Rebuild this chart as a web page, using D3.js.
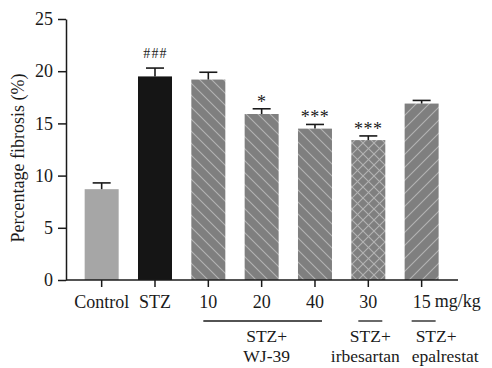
<!DOCTYPE html>
<html>
<head>
<meta charset="utf-8">
<script src="https://cdn.jsdelivr.net/npm/d3@7"></script>
<style>
  html, body { margin: 0; padding: 0; background: #fff; }
  svg { display: block; }
  text { font-family: "Liberation Serif", "Times New Roman", "DejaVu Serif", serif; fill: #1a1a1a; }
</style>
</head>
<body>
<svg id="chart" width="492" height="368"></svg>
<script>
// ---- data ----
const categories = ["Control", "STZ", "10", "20", "40", "30", "15"];
const values     = [8.7, 19.5, 19.2, 15.9, 14.5, 13.4, 16.9];
const errors     = [0.6, 0.8, 0.7, 0.5, 0.4, 0.4, 0.3];
const marks      = ["", "###", "", "*", "***", "***", ""];
const fills      = ["solid-light", "solid-dark", "back", "back", "back", "cross", "fwd"];
const yTicks     = [0, 5, 10, 15, 20, 25];
const unitLabel  = "mg/kg";
const groupLabels = [["STZ+", "WJ-39"], ["STZ+", "irbesartan"], ["STZ+", "epalrestat"]];
const groupFirst  = ["10", "30", "15"];
const groupLast   = ["40", "30", "15"];

// ---- chart ----
const svg = d3.select("#chart");
const defs = svg.append("defs");

function hatch(id, type, size) {
  const p = defs.append("pattern").attr("id", id)
    .attr("patternUnits", "userSpaceOnUse").attr("width", size).attr("height", size);
  p.append("rect").attr("width", size).attr("height", size).attr("fill", "#7f7f7f");
  const addLine = (x1, y1, x2, y2) => {
    p.append("line").attr("x1", x1).attr("y1", y1).attr("x2", x2).attr("y2", y2)
      .attr("stroke", "#b3b3b3").attr("stroke-width", 1.1);
  };
  if (type === "back" || type === "cross") {
    addLine(-1, -1, size + 1, size + 1);
    addLine(-1, size - 1, 1, size + 1);
    addLine(size - 1, -1, size + 1, 1);
  }
  if (type === "fwd" || type === "cross") {
    addLine(-1, size + 1, size + 1, -1);
    addLine(-1, 1, 1, -1);
    addLine(size - 1, size + 1, size + 1, size - 1);
  }
}
hatch("p-back", "back", 12);
hatch("p-fwd", "fwd", 13);
hatch("p-cross", "cross", 11);

const fillMap = {
  "solid-light": "#a6a6a6",
  "solid-dark": "#151515",
  "back": "url(#p-back)",
  "fwd": "url(#p-fwd)",
  "cross": "url(#p-cross)"
};

const x = d3.scaleBand().domain(categories).range([75, 448.3])
  .paddingInner(0.3625).paddingOuter(0.18125);
const y = d3.scaleLinear().domain([0, 25]).range([280, 19]);
const bw = x.bandwidth();
const cx = c => x(c) + bw / 2;

// bars
svg.append("g").selectAll("rect").data(categories).join("rect")
  .attr("x", c => x(c))
  .attr("y", (c, i) => y(values[i]))
  .attr("width", bw)
  .attr("height", (c, i) => y(0) - y(values[i]))
  .attr("fill", (c, i) => fillMap[fills[i]]);

// error bars (upper only)
const eg = svg.append("g").attr("stroke", "#1a1a1a").attr("stroke-width", 1.6);
categories.forEach((c, i) => {
  eg.append("line").attr("x1", cx(c)).attr("x2", cx(c))
    .attr("y1", y(values[i])).attr("y2", y(values[i] + errors[i]));
  eg.append("line").attr("x1", cx(c) - 9).attr("x2", cx(c) + 9)
    .attr("y1", y(values[i] + errors[i])).attr("y2", y(values[i] + errors[i]));
});

// significance marks
categories.forEach((c, i) => {
  if (!marks[i]) return;
  const isHash = marks[i].startsWith("#");
  svg.append("text")
    .attr("x", cx(c) + (isHash ? 0.5 : 0))
    .attr("y", y(values[i] + errors[i]) - (isHash ? 10 : 1))
    .attr("text-anchor", "middle")
    .attr("font-size", isHash ? 14 : 18)
    .attr("letter-spacing", isHash ? 1.2 : 0.5)
    .text(marks[i]);
});

// y axis
const yAxis = svg.append("g").attr("transform", "translate(66,0)")
  .call(d3.axisLeft(y).tickValues(yTicks).tickSize(8).tickPadding(5).tickSizeOuter(0));
yAxis.select(".domain").attr("stroke", "#1a1a1a").attr("stroke-width", 1.5);
yAxis.selectAll(".tick line").attr("stroke", "#1a1a1a").attr("stroke-width", 1.5);
yAxis.selectAll(".tick text").attr("font-size", 18).attr("fill", "#1a1a1a");

// x axis
const xAxis = svg.append("g").attr("transform", "translate(0,280)")
  .call(d3.axisBottom(x).tickSize(7).tickPadding(8).tickSizeOuter(0));
xAxis.select(".domain").remove();
xAxis.append("line").attr("x1", 66).attr("x2", 458).attr("y1", 0).attr("y2", 0)
  .attr("stroke", "#1a1a1a").attr("stroke-width", 1.5);
xAxis.selectAll(".tick line").attr("stroke", "#1a1a1a").attr("stroke-width", 1.5);
xAxis.selectAll(".tick text").attr("font-size", 18).attr("fill", "#1a1a1a")
  .attr("dy", "0.71em");

// unit label
svg.append("text").attr("x", cx("15") + 13).attr("y", 307)
  .attr("font-size", 18).text(unitLabel);

// group brackets and labels
const gfs = 17.5;
groupLabels.forEach((lines, g) => {
  const multi = groupFirst[g] !== groupLast[g];
  const x1 = cx(groupFirst[g]) - (multi ? 5 : 10);
  const x2 = cx(groupLast[g]) + (multi ? 7 : 14);
  svg.append("line").attr("x1", x1).attr("x2", x2).attr("y1", 321).attr("y2", 321)
    .attr("stroke", "#1a1a1a").attr("stroke-width", 1.3);
  const mid = (x1 + x2) / 2;
  if (g === 2) {
    svg.append("text").attr("x", x1 + 4).attr("y", 342).attr("font-size", gfs).text(lines[0]);
    svg.append("text").attr("x", x1).attr("y", 362).attr("font-size", gfs).text(lines[1]);
  } else {
    const tx = g === 0 ? mid + 4 : mid;
    svg.append("text").attr("x", tx).attr("y", 342).attr("text-anchor", "middle")
      .attr("font-size", gfs).text(lines[0]);
    svg.append("text").attr("x", g === 1 ? mid - 5 : tx).attr("y", 362).attr("text-anchor", "middle")
      .attr("font-size", gfs).text(lines[1]);
  }
});

// y title
svg.append("text")
  .attr("transform", "translate(24,158) rotate(-90)")
  .attr("text-anchor", "middle")
  .attr("font-size", 18)
  .text("Percentage fibrosis (%)");
</script>
</body>
</html>
